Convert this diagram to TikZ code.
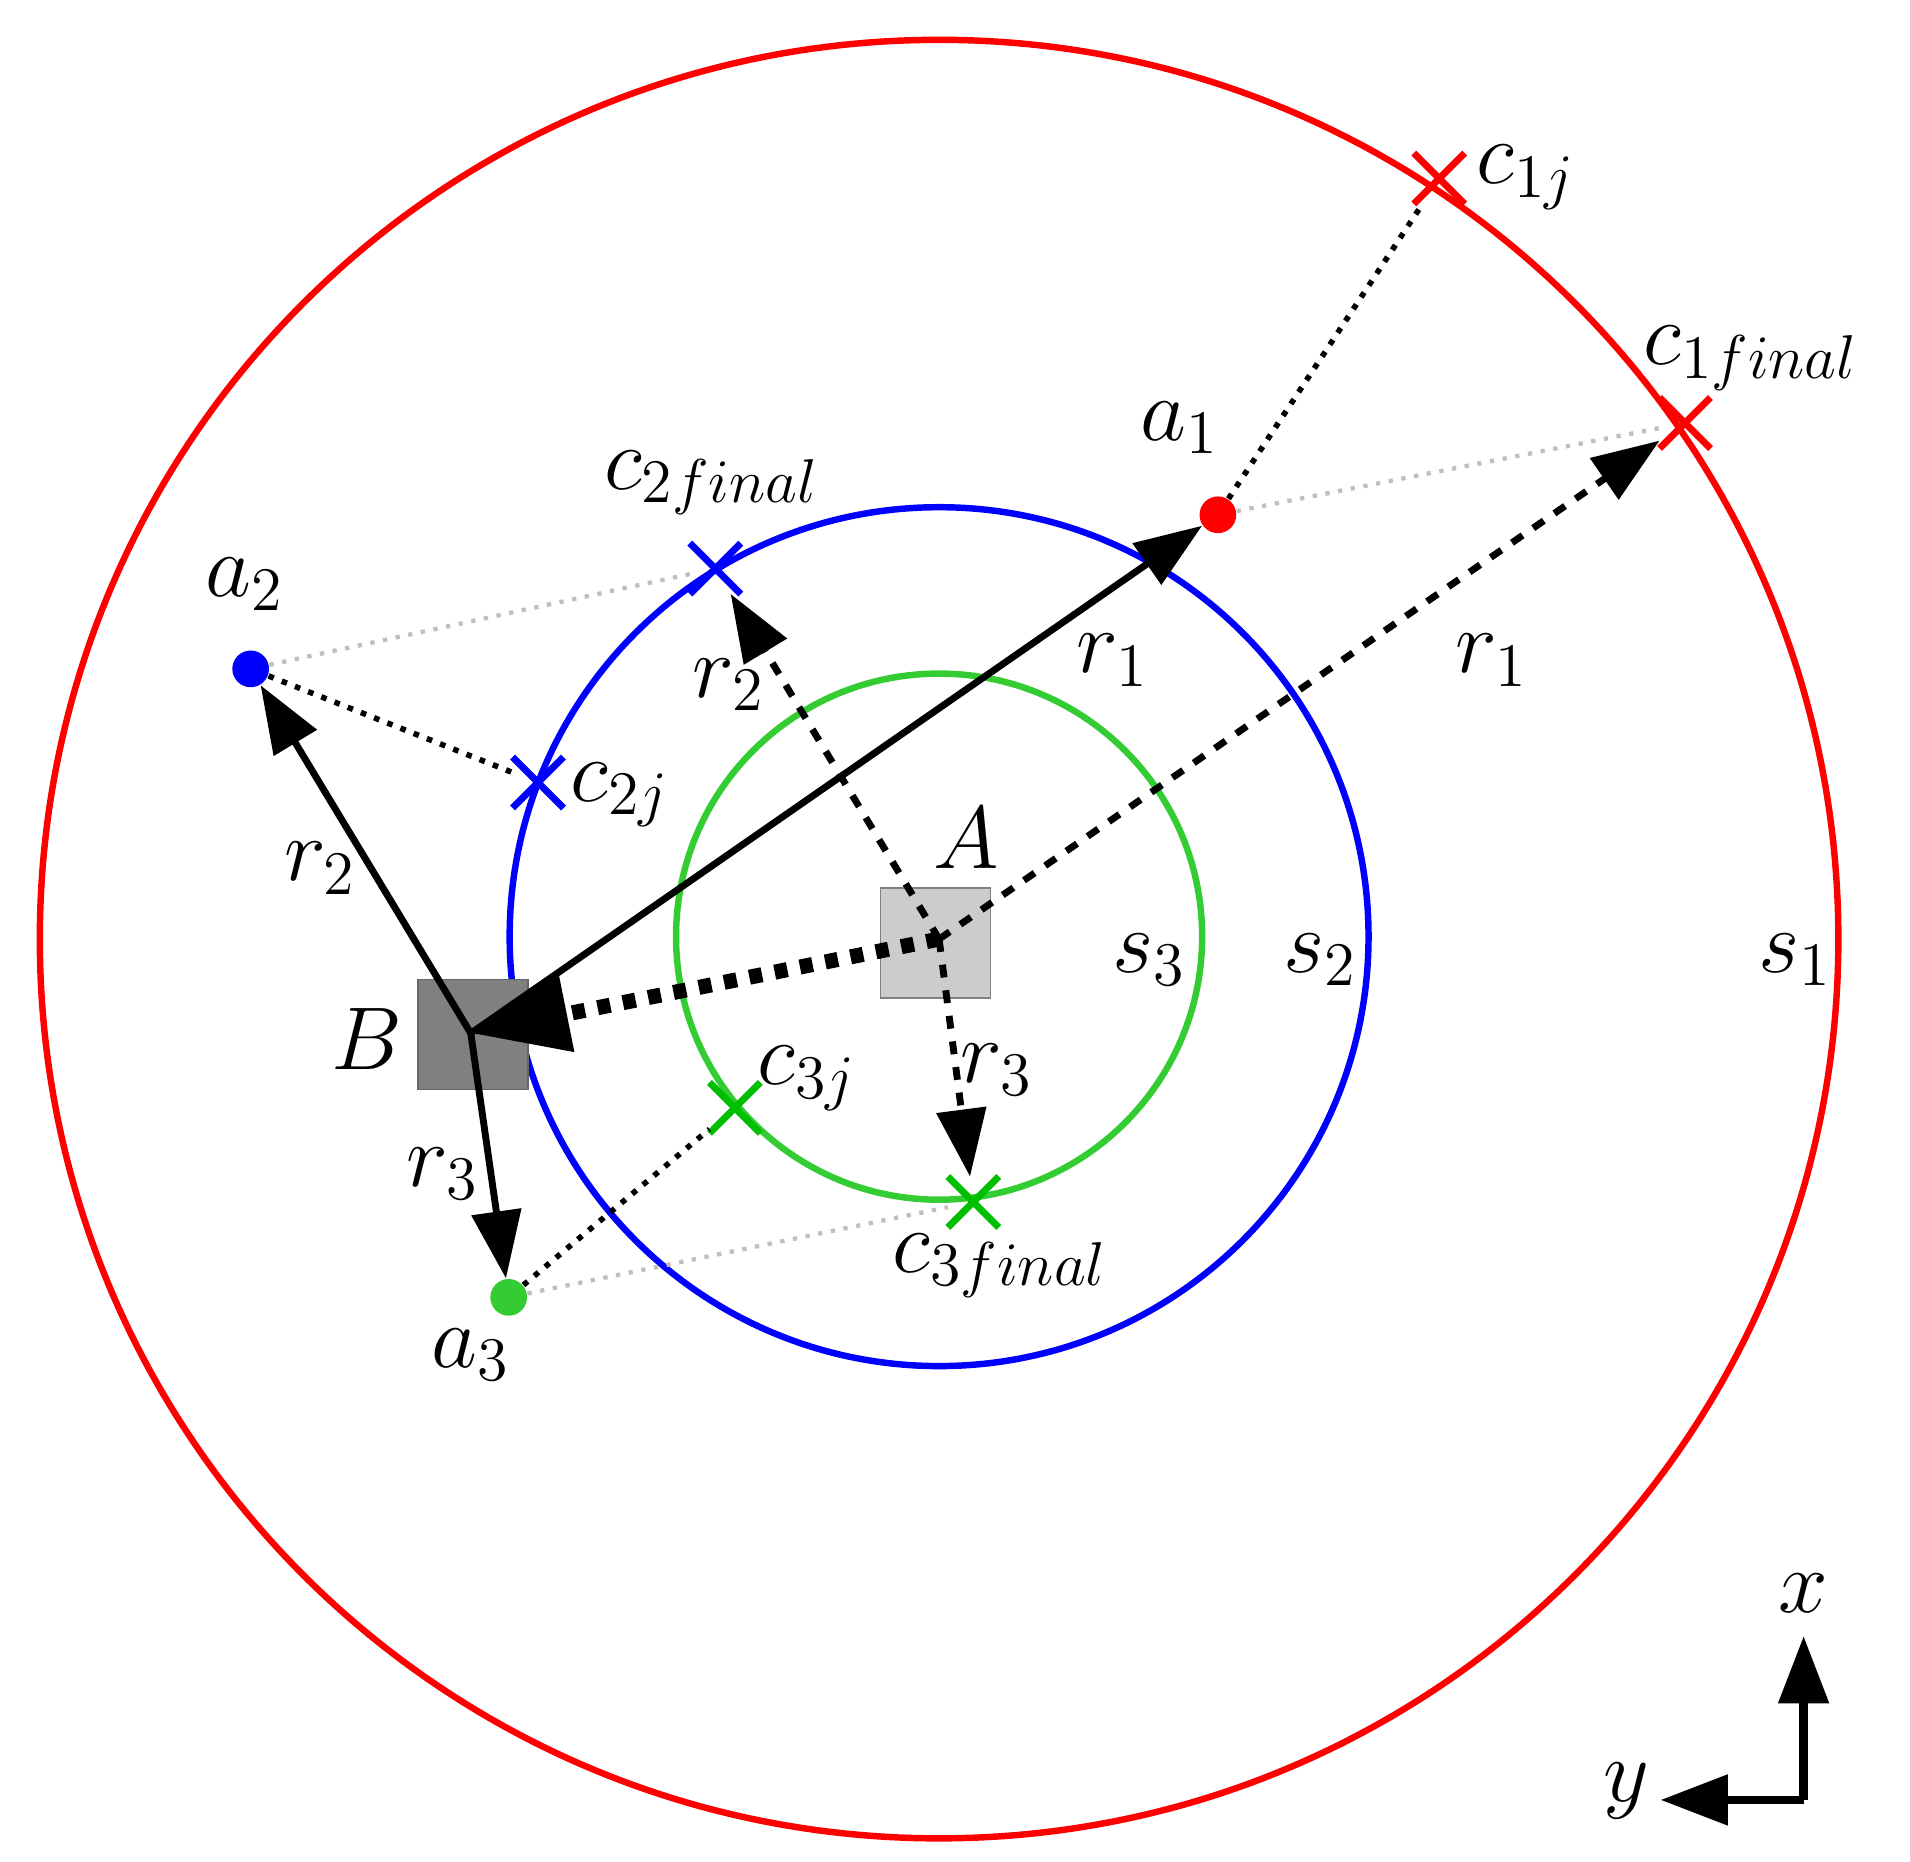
\documentclass[tikz,border=0pt]{standalone}
\usepackage{amsmath}
\usepackage{tikz}
\usetikzlibrary{arrows.meta,shapes.misc}
\begin{document}
\begin{tikzpicture}[x={(0.01cm,0)},y={(0,-0.01cm)},
    lbl/.style={font=\fontsize{20}{24}\selectfont},
    dot/.style={circle,fill=#1,inner sep=0pt,minimum size=3mm},
    cross/.style={cross out,draw=#1,line width=1.6pt,minimum size=3.6mm,inner sep=0pt},
    tip/.style={-{Triangle[length=5.5mm,width=4mm]}}]
    \useasboundingbox (0,0) rectangle (1562,1522);
    \draw[red,line width=1.5pt] (768,768) circle (7.35cm);
    \draw[blue,line width=1.5pt] (768,766) circle (3.51cm);
    \draw[green!75!black!80,line width=1.5pt] (768,766) circle (2.15cm);
    \node[draw=gray,fill=gray!40,minimum size=9cm/10,inner sep=0pt] (A) at (765,771) {};
    \node[draw=gray!80!black,fill=gray,minimum size=9cm/10,inner sep=0pt] (Bbox) at (387,846) {};
    \coordinate (B) at (385,845);
    \coordinate (Ac) at (768,768);
    \node[dot=red] (a1) at (996,421) {};
    \node[dot=blue] (a2) at (205,547) {};
    \node[dot=green!75!black!80] (a3) at (416,1061) {};
    \node[cross=red] (c1j) at (1177,146) {};
    \node[cross=red] (c1f) at (1378,346) {};
    \node[cross=blue] (c2f) at (585,465) {};
    \node[cross=blue] (c2j) at (440,640) {};
    \node[cross=green!75!black] (c3j) at (601,906) {};
    \node[cross=green!75!black] (c3f) at (796,983) {};
    % light connections
    \draw[gray!50,dotted,line width=1pt] (a1) -- (c1f);
    \draw[gray!50,dotted,line width=1pt] (a2) -- (c2f);
    \draw[gray!50,dotted,line width=1pt] (a3) -- (c3f);
    \draw[dotted,line width=1.3pt] (a1) -- (c1j);
    \draw[dotted,line width=1.3pt] (a2) -- (c2j);
    \draw[dotted,line width=1.3pt] (a3) -- (c3j);
    % arrows
    \draw[tip,line width=1.6pt] (B) -- (a1);
    \draw[tip,line width=1.6pt] (B) -- (a2);
    \draw[tip,line width=1.6pt] (B) -- (a3);
    \draw[tip,dashed,line width=1.6pt] (Ac) -- (c1f);
    \draw[tip,dashed,line width=1.6pt] (Ac) -- (c2f);
    \draw[tip,dashed,line width=1.6pt] (Ac) -- (c3f);
    \draw[-{Triangle[length=8mm,width=6mm]},dashed,line width=3.5pt] (Ac) -- (B);
    % labels
    \node[lbl] at (790,685) {$A$};
    \node[lbl] at (300,850) {$B$};
    \node[lbl] at (965,350) {$a_1$};
    \node[lbl] at (200,478) {$a_2$};
    \node[lbl] at (385,1108) {$a_3$};
    \node[lbl] at (1248,145) {$c_{1j}$};
    \node[lbl] at (1432,293) {$c_{1final}$};
    \node[lbl] at (582,395) {$c_{2final}$};
    \node[lbl] at (507,650) {$c_{2j}$};
    \node[lbl] at (660,882) {$c_{3j}$};
    \node[lbl] at (818,1035) {$c_{3final}$};
    \node[lbl] at (910,540) {$r_1$};
    \node[lbl] at (1220,540) {$r_1$};
    \node[lbl] at (596,560) {$r_2$};
    \node[lbl] at (262,710) {$r_2$};
    \node[lbl] at (815,875) {$r_3$};
    \node[lbl] at (362,960) {$r_3$};
    \node[lbl] at (940,785) {$s_3$};
    \node[lbl] at (1080,785) {$s_2$};
    \node[lbl] at (1468,785) {$s_1$};
    % axes
    \coordinate (O) at (1475,1472);
    \coordinate (X) at (1475,1338);
    \coordinate (Y) at (1358,1472);
    \draw[tip,line width=2pt] (O) -- (X);
    \draw[tip,line width=2pt] (O) -- (Y);
    \node[lbl] at (1475,1303) {$x$};
    \node[lbl] at (1330,1465) {$y$};
\end{tikzpicture}
\end{document}
